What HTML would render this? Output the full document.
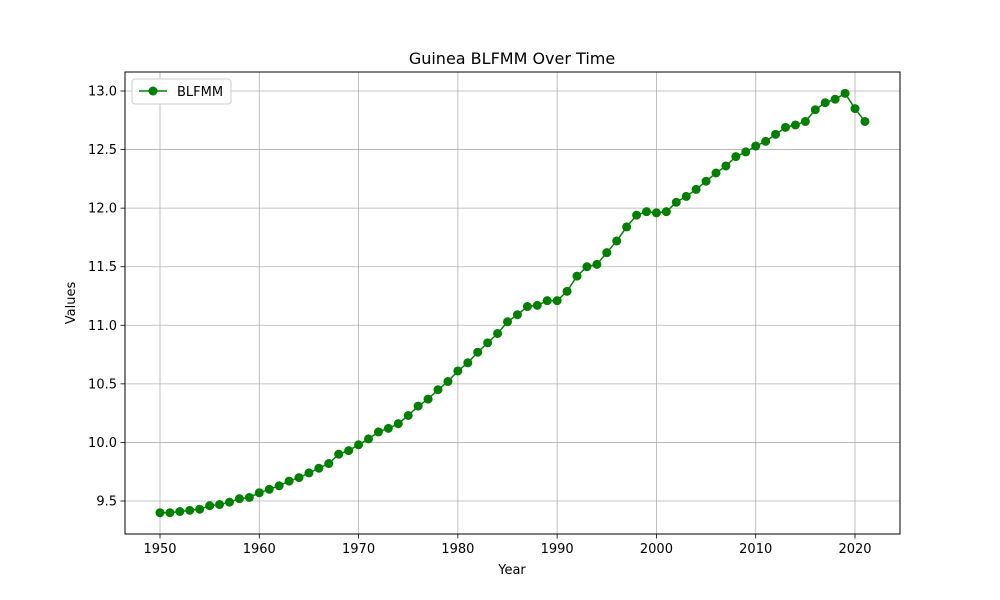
<!DOCTYPE html>
<html><head><meta charset="utf-8">
<style>
html,body{margin:0;padding:0;background:#fff;}
svg{display:block;font-family:"DejaVu Sans","Liberation Sans",sans-serif;}
</style></head>
<body>
<svg id="chart" width="1000" height="600" xmlns="http://www.w3.org/2000/svg">
<rect x="0" y="0" width="1000" height="600" fill="#fff"/>
<text x="512" y="64" text-anchor="middle" font-size="16" fill="#000">Guinea BLFMM Over Time</text>
<g id="grid"></g>
<g id="ticks"></g>
<g id="series"></g>
<rect x="125" y="72" width="775" height="462" fill="none" stroke="#000" stroke-width="1"/>
<text x="512" y="574" text-anchor="middle" font-size="13">Year</text>
<text x="75" y="303" text-anchor="middle" font-size="13" transform="rotate(-90 75 303)">Values</text>
<g>
<rect x="132" y="79" width="99" height="25" rx="3" fill="#fff" stroke="#ccc"/>
<line x1="139" y1="91" x2="167" y2="91" stroke="#008000" stroke-width="1.5"/>
<circle cx="153" cy="91" r="4.5" fill="#008000"/>
<text x="177" y="96" font-size="13">BLFMM</text>
</g>
</svg>
<script>
const years = [];
for (let y = 1950; y <= 2021; y++) years.push(y);
const values = [9.40,9.40,9.41,9.42,9.43,9.46,9.47,9.49,9.52,9.53,
9.57,9.60,9.63,9.67,9.70,9.74,9.78,9.82,9.90,9.93,
9.98,10.03,10.09,10.12,10.16,10.23,10.31,10.37,10.45,10.52,
10.61,10.68,10.77,10.85,10.93,11.03,11.09,11.16,11.17,11.21,
11.21,11.29,11.42,11.50,11.52,11.62,11.72,11.84,11.94,11.97,
11.96,11.97,12.05,12.10,12.16,12.23,12.30,12.36,12.44,12.48,
12.53,12.57,12.63,12.69,12.71,12.74,12.84,12.90,12.93,12.98,
12.85,12.74];
const xTicks = [1950,1960,1970,1980,1990,2000,2010,2020];
const yTicks = [9.5,10.0,10.5,11.0,11.5,12.0,12.5,13.0];

const NS = "http://www.w3.org/2000/svg";
function xScale(v){ return 160 + (v - 1950) * (855 - 160) / 70; }
function yScale(v){ return 501 - (v - 9.5) * (501 - 91) / 3.5; }
function mk(tag, attrs, parent){
  const e = document.createElementNS(NS, tag);
  for (const k in attrs) e.setAttribute(k, attrs[k]);
  parent.appendChild(e); return e;
}
const grid = document.getElementById('grid');
const ticks = document.getElementById('ticks');
xTicks.forEach(t => {
  const x = xScale(t);
  const g = mk('line', {x1:x, x2:x, y1:72, y2:534, stroke:'#b0b0b0', 'stroke-width':0.8}, grid);
  
  
  const tk = mk('line', {x1:x, x2:x, y1:534, y2:538.5, stroke:'#000', 'stroke-width':0.8}, ticks);
  
  
  const lb = mk('text', {x:x, y:553, 'text-anchor':'middle', 'font-size':13}, ticks);
  lb.textContent = t;
  
  
});
yTicks.forEach(t => {
  const y = yScale(t);
  const g = mk('line', {x1:125, x2:900, y1:y, y2:y, stroke:'#b0b0b0', 'stroke-width':0.8}, grid);
  
  
  const tk = mk('line', {x1:120.5, x2:125, y1:y, y2:y, stroke:'#000', 'stroke-width':0.8}, ticks);
  
  
  const lb = mk('text', {x:117, y:y + 4.5, 'text-anchor':'end', 'font-size':13}, ticks);
  lb.textContent = t.toFixed(1);
  
  
});
const series = document.getElementById('series');
const pts = years.map((yr, i) => xScale(yr).toFixed(2) + ',' + yScale(values[i]).toFixed(2)).join(' ');
const line = mk('polyline', {points:pts, fill:'none', stroke:'#008000', 'stroke-width':1.5}, series);


years.forEach((yr, i) => {
  const c = mk('circle', {cx:xScale(yr), cy:yScale(values[i]), r:4.5, fill:'#008000'}, series);
  
  
});
</script>
</body></html>
